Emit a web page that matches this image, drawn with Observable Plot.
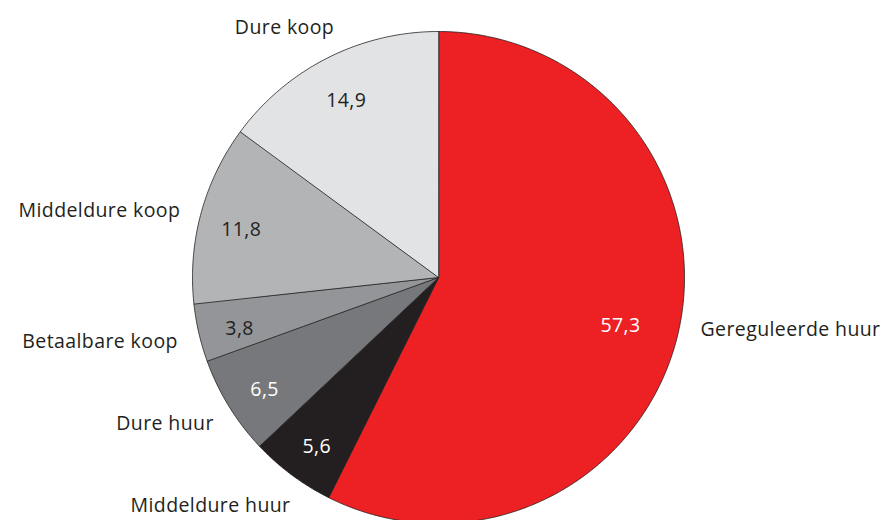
<!DOCTYPE html>
<html>
<head>
<meta charset="utf-8">
<script src="https://cdn.jsdelivr.net/npm/d3@7"></script>
<script src="https://cdn.jsdelivr.net/npm/@observablehq/plot@0.6"></script>
<style>
  html, body { margin: 0; padding: 0; background: #fff; }
  #chart svg { display: block; }
  #chart svg text { letter-spacing: 0.4px; }
</style>
</head>
<body>
<div id="chart"></div>
<script>
// Data (clockwise from 12 o'clock)
const categories = ["Gereguleerde huur", "Middeldure huur", "Dure huur", "Betaalbare koop", "Middeldure koop", "Dure koop"];
const values = [57.3, 5.6, 6.5, 3.8, 11.8, 14.9];
const valueLabels = ["57,3", "5,6", "6,5", "3,8", "11,8", "14,9"];
const colors = ["#ED2024", "#231F20", "#77787B", "#939598", "#B3B4B6", "#E2E3E5"];
const labelColors = ["#ffffff", "#ffffff", "#ffffff", "#231F20", "#231F20", "#231F20"];

// Layout
const W = 887, H = 520, R = 246, CX = 438, CY = 277;

const total = d3.sum(values);
let acc = 0;
const slices = categories.map((c, i) => {
  const a0 = acc / total * 2 * Math.PI;
  acc += values[i];
  const a1 = acc / total * 2 * Math.PI;
  return {category: c, value: values[i], a0, a1, mid: (a0 + a1) / 2, i};
});

// polygon points for each slice (unit radius)
const pts = [];
for (const s of slices) {
  pts.push({category: s.category, x: 0, y: 0});
  const n = Math.max(2, Math.ceil((s.a1 - s.a0) / (Math.PI / 360)));
  for (let k = 0; k <= n; k++) {
    const a = s.a0 + (s.a1 - s.a0) * k / n;
    pts.push({category: s.category, x: Math.sin(a), y: Math.cos(a)});
  }
}

const inner = slices.map(s => {
  const r = s.value > 50 ? 0.76 : 0.83;
  return {label: valueLabels[s.i], color: labelColors[s.i], x: r * Math.sin(s.mid), y: r * Math.cos(s.mid)};
});
const outer = slices.map(s => {
  const c2 = Math.cos(s.mid) ** 2;
  const r = 1.09 + 0.08 * c2;
  const right = Math.sin(s.mid) > 0;
  return {label: s.category, x: r * Math.sin(s.mid) + (right ? 0 : 30 * c2 / R), y: r * Math.cos(s.mid), right};
});

const font = "'Open Sans', sans-serif";
const fs = 19.5;

const chart = Plot.plot({
  width: W,
  height: H,
  margin: 0,
  x: {domain: [-CX / R, (W - CX) / R], axis: null},
  y: {domain: [-(H - CY) / R, CY / R], axis: null},
  color: {domain: categories, range: colors},
  style: {fontFamily: font, background: "#fff"},
  marks: [
    Plot.line(pts, {x: "x", y: "y", z: "category", fill: "category", stroke: "#231F20", strokeWidth: 0.8, curve: "linear-closed"}),
    Plot.text(inner, {x: "x", y: "y", text: "label", fill: "color", fontSize: fs, fontFamily: font, dy: 5}),
    Plot.text(outer.filter(d => d.right), {x: "x", y: "y", text: "label", textAnchor: "start", fill: "#231F20", fontSize: fs, fontFamily: font, dy: -9}),
    Plot.text(outer.filter(d => !d.right), {x: "x", y: "y", text: "label", textAnchor: "end", fill: "#231F20", fontSize: fs, fontFamily: font, dy: 3})
  ]
});
document.getElementById("chart").appendChild(chart);
</script>
</body>
</html>
